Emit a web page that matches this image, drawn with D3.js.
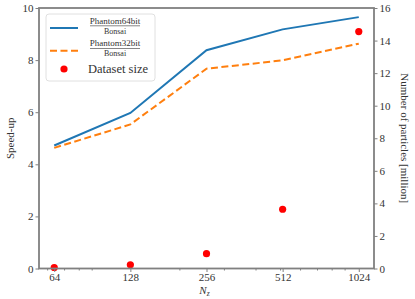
<!DOCTYPE html>
<meta charset="utf-8">

<script src="https://d3js.org/d3.v7.min.js"></script>

<style type="text/css">
  body { margin: 0; background: #fff; }
  svg text { font-family: "Liberation Serif", "Times New Roman", serif; fill: #333; }
</style>

<body>
</body>

<script>

var nz = [64, 128, 256, 512, 1024];
var speedup64 = [4.72, 5.97, 8.38, 9.18, 9.65];
var speedup32 = [4.63, 5.53, 7.67, 7.99, 8.63];
var datasetSize = [0.06, 0.23, 0.91, 3.64, 14.55];
var leftTicks = [0, 2, 4, 6, 8, 10];
var rightTicks = [0, 2, 4, 6, 8, 10, 12, 14, 16];
var minorTicks = [60, 70, 80, 90, 200, 300, 400, 500, 600, 700, 800, 900];

var width = 415, height = 299;
var margin = {top: 8, right: 41, bottom: 30.5, left: 39};

var svg = d3.select("body").append("svg")
    .attr("width", width)
    .attr("height", height)
    .attr("font-family", "Liberation Serif");

var g = svg.append("g")
    .attr("transform", "translate(" + margin.left + "," + margin.top + ")");

var w = width - margin.left - margin.right,
    h = height - margin.top - margin.bottom;

var x = d3.scaleLog().base(2)
    .domain([Math.pow(2, 5.8), Math.pow(2, 10.2)])
    .range([0, w]);
var y = d3.scaleLinear().domain([0, 10]).range([h, 0]);
var y2 = d3.scaleLinear().domain([0, 16]).range([h, 0]);

// lines
var lineGen = d3.line()
    .x(function(d, i) { return x(nz[i]); })
    .y(function(d) { return y(d); });

g.append("path")
    .datum(speedup64)
    .attr("fill", "none")
    .attr("stroke", "#1f77b4")
    .attr("stroke-width", 2)
    .attr("d", lineGen);

g.append("path")
    .datum(speedup32)
    .attr("fill", "none")
    .attr("stroke", "#ff7f0e")
    .attr("stroke-width", 2)
    .attr("stroke-dasharray", "7,3.5")
    .attr("d", lineGen);

g.selectAll(".dot")
    .data(datasetSize)
  .enter().append("circle")
    .attr("r", 3.6)
    .attr("fill", "red")
    .attr("cx", function(d, i) { return x(nz[i]); })
    .attr("cy", function(d) { return y2(d); });

// axes
var axisColor = "#808080";

g.append("g")
    .attr("transform", "translate(0," + h + ")")
    .call(d3.axisBottom(x).tickValues(nz).tickFormat(d3.format("d")).tickSize(3.5).tickPadding(1.5));

g.append("g")
    .attr("transform", "translate(0," + h + ")")
    .call(d3.axisBottom(x).tickValues(minorTicks).tickFormat("").tickSize(2));

g.append("g")
    .call(d3.axisLeft(y).tickValues(leftTicks).tickSize(3.5).tickPadding(2));

g.append("g")
    .attr("transform", "translate(" + w + ",0)")
    .call(d3.axisRight(y2).tickValues(rightTicks).tickSize(3.5).tickPadding(2));

g.selectAll(".domain").remove();
g.selectAll(".tick line").attr("stroke", axisColor).attr("stroke-width", 1);
g.selectAll("g").attr("font-family", null).attr("font-size", null);
g.selectAll(".tick text")
    .attr("fill", "#333")
    .style("font-size", "11px");

// frame
g.append("rect")
    .attr("width", w)
    .attr("height", h)
    .attr("fill", "none")
    .attr("stroke", axisColor)
    .attr("stroke-width", 1.8);

// axis labels
svg.append("text")
    .attr("x", margin.left + x(256) - 2)
    .attr("y", 294)
    .attr("text-anchor", "middle")
    .style("font-size", "11px")
    .style("font-style", "italic")
    .text("N")
  .append("tspan")
    .attr("dy", 2)
    .style("font-size", "7.5px")
    .text("z");

svg.append("text")
    .attr("transform", "translate(14," + (margin.top + h / 2) + ") rotate(-90)")
    .attr("text-anchor", "middle")
    .style("font-size", "11px")
    .text("Speed-up");

svg.append("text")
    .attr("transform", "translate(401," + (margin.top + h / 2) + ") rotate(90)")
    .attr("text-anchor", "middle")
    .style("font-size", "11px")
    .text("Number of particles [million]");

// legend
var leg = svg.append("g").attr("transform", "translate(46,14)");

leg.append("rect")
    .attr("width", 109)
    .attr("height", 67)
    .attr("rx", 3)
    .attr("fill", "#fff")
    .attr("fill-opacity", 0.8)
    .attr("stroke", "#d8d8d8")
    .attr("stroke-width", 0.8);

var legItems = [
  {num: "Phantom64bit", den: "Bonsai", color: "#1f77b4", dash: null, y: 14},
  {num: "Phantom32bit", den: "Bonsai", color: "#ff7f0e", dash: "7,3.5", y: 36.7}
];

legItems.forEach(function(d) {
  leg.append("line")
      .attr("x1", 4).attr("x2", 32)
      .attr("y1", d.y).attr("y2", d.y)
      .attr("stroke", d.color)
      .attr("stroke-width", 2)
      .attr("stroke-dasharray", d.dash);
  leg.append("text")
      .attr("x", 69).attr("y", d.y - 4.5)
      .attr("text-anchor", "middle")
      .style("font-size", "9px")
      .text(d.num);
  leg.append("line")
      .attr("x1", 44).attr("x2", 94)
      .attr("y1", d.y - 2.2).attr("y2", d.y - 2.2)
      .attr("stroke", "#333")
      .attr("stroke-width", 0.6);
  leg.append("text")
      .attr("x", 69).attr("y", d.y + 5.5)
      .attr("text-anchor", "middle")
      .style("font-size", "8px")
      .text(d.den);
});

leg.append("circle")
    .attr("cx", 18).attr("cy", 55)
    .attr("r", 3.6)
    .attr("fill", "red");

leg.append("text")
    .attr("x", 42).attr("y", 59)
    .style("font-size", "12.5px")
    .text("Dataset size");

</script>
